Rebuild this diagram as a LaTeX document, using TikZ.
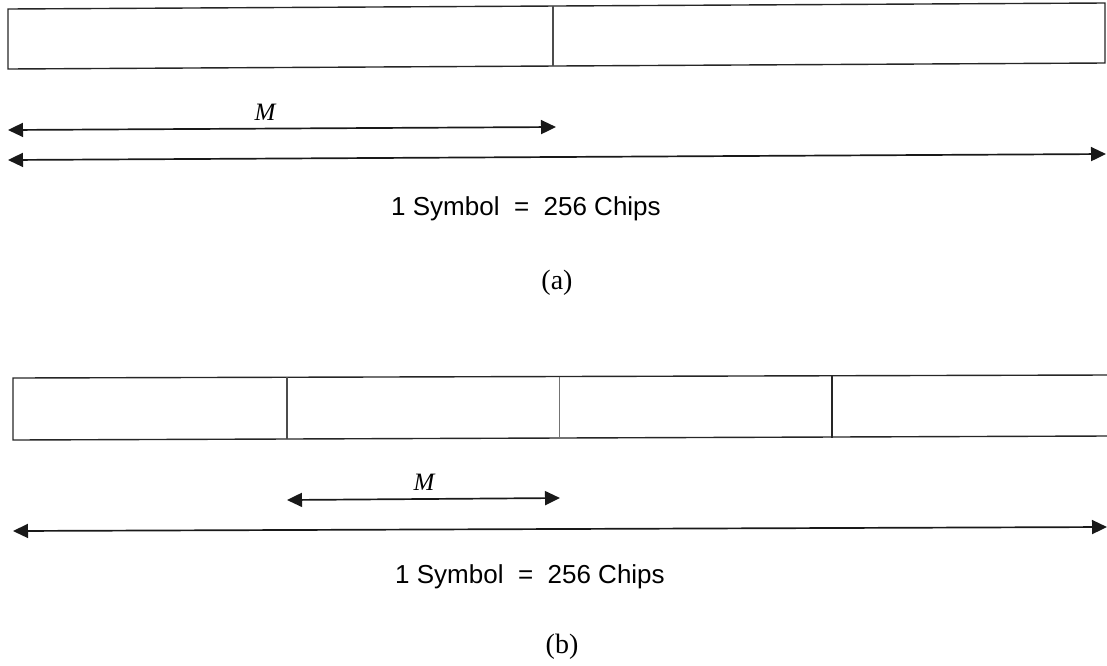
\documentclass[tikz,border=0pt]{standalone}
\usepackage{fontspec}
\setmainfont{Liberation Serif}
\setsansfont{Liberation Sans}
\usetikzlibrary{arrows.meta}
\begin{document}
\begin{tikzpicture}[x=1pt,y=-1pt,
  boxline/.style={draw=black!85,line width=1.4pt},
  divline/.style={draw=black!70,line width=1.1pt},
  dimarrow/.style={draw=black!90,line width=1.7pt,{Triangle[length=15pt,width=14pt]}-{Triangle[length=15pt,width=14pt]}},
  caption/.style={font=\sffamily\fontsize{26}{30}\selectfont,inner sep=0pt},
  sublabel/.style={font=\rmfamily\fontsize{28}{32}\selectfont,inner sep=0pt},
  mlabel/.style={font=\rmfamily\itshape\fontsize{25}{29}\selectfont,inner sep=0pt}]
\useasboundingbox (0,0) rectangle (1107,665);
% ---------- (a) ----------
\coordinate (a1) at (8,9);
\coordinate (a2) at (1105,3);
\coordinate (a3) at (1105,63);
\coordinate (a4) at (8,69);
\coordinate (ad1) at (553,6);
\coordinate (ad2) at (553,66);
\draw[boxline] (a1) -- (a2) -- (a3) -- (a4) -- cycle;
\draw[divline] (ad1) -- (ad2);
\coordinate (amL) at (8,130);
\coordinate (amR) at (556,127);
\draw[dimarrow] (amL) -- (amR);
\node[mlabel] (aM) at (265,112) {M};
\coordinate (asL) at (8,160);
\coordinate (asR) at (1106,154);
\draw[dimarrow] (asL) -- (asR);
\node[caption] (atext) at (526,209) {1 Symbol\ \ =\ \ 256 Chips};
\node[sublabel] (alab) at (557,283) {(a)};
% ---------- (b) ----------
\coordinate (b1) at (13,378);
\coordinate (b2) at (1107,375);
\coordinate (b3) at (1107,436);
\coordinate (b4) at (13,440);
\draw[boxline] (b2) -- (b1) -- (b4) -- (b3);
\coordinate (bd1t) at (287,377);
\coordinate (bd1b) at (287,439);
\coordinate (bd2t) at (559,376.5);
\coordinate (bd2b) at (559,438);
\coordinate (bd3t) at (832,376);
\coordinate (bd3b) at (832,437.5);
\draw[divline] (bd1t) -- (bd1b);
\draw[draw=black!55,line width=1pt] (bd2t) -- (bd2b);
\draw[boxline] (bd3t) -- (bd3b);
\coordinate (bmL) at (287,500);
\coordinate (bmR) at (560,498);
\draw[dimarrow] (bmL) -- (bmR);
\node[mlabel] (bM) at (424,482) {M};
\coordinate (bsL) at (13,531);
\coordinate (bsR) at (1107,527);
\draw[dimarrow] (bsL) -- (bsR);
\node[caption] (btext) at (530,577) {1 Symbol\ \ =\ \ 256 Chips};
\node[sublabel] (blab) at (562,647) {(b)};
\end{tikzpicture}
\end{document}
